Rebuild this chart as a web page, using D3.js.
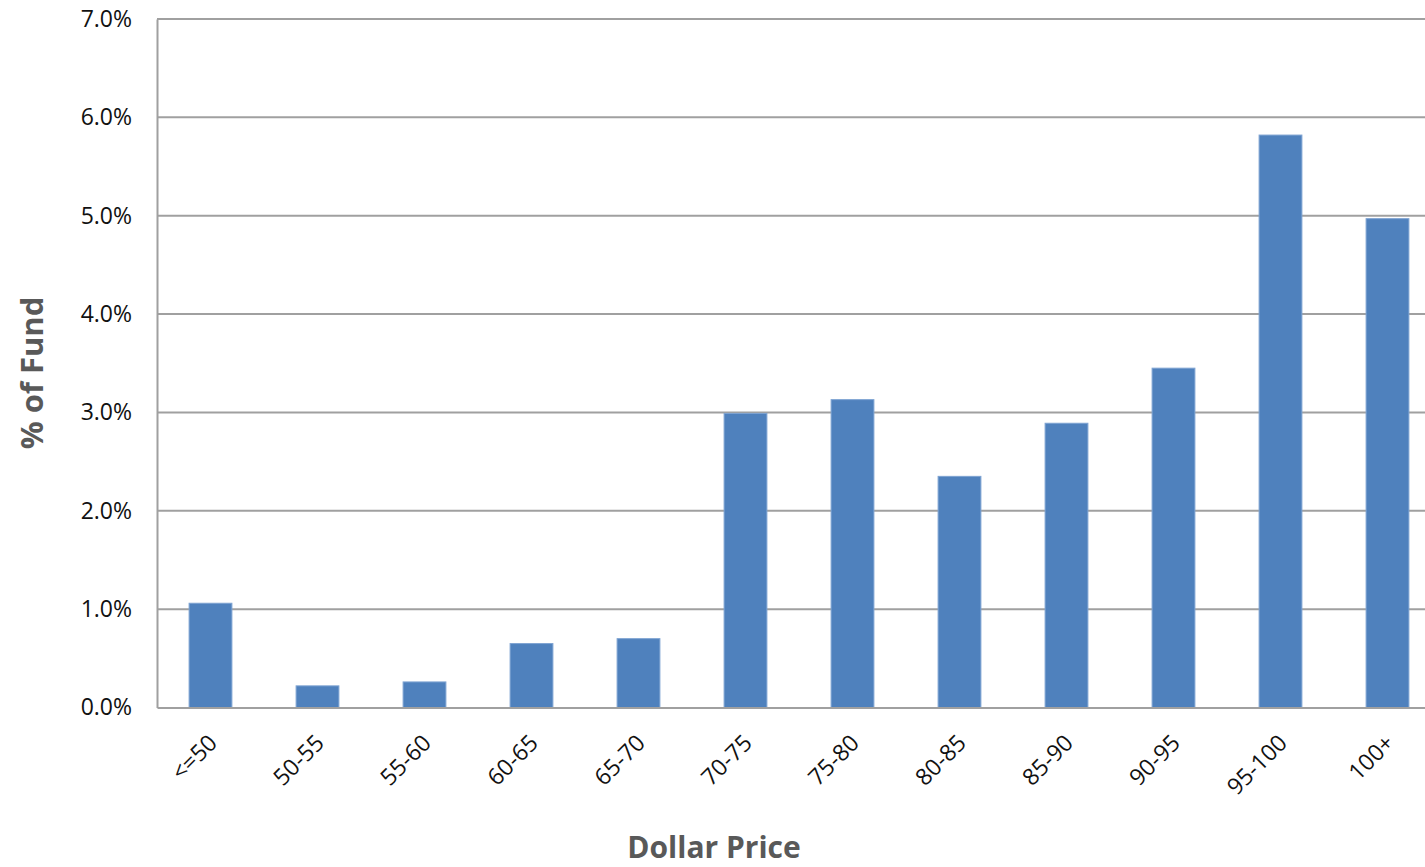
<!DOCTYPE html>
<html>
<head>
<meta charset="utf-8">
<script src="https://cdn.jsdelivr.net/npm/d3@7"></script>
<style>
  html, body { margin: 0; padding: 0; background: #fff; overflow: hidden; }
  svg { display: block; }
</style>
</head>
<body>
<svg id="chart" width="1425" height="867"></svg>
<script>
// Distribution of fund holdings by dollar price bucket
const categories = ["<=50", "50-55", "55-60", "60-65", "65-70", "70-75", "75-80", "80-85", "85-90", "90-95", "95-100", "100+"];
const values = [1.06, 0.22, 0.26, 0.65, 0.70, 2.99, 3.13, 2.35, 2.89, 3.45, 5.82, 4.97];
const yTicks = [0, 1, 2, 3, 4, 5, 6, 7];

const svg = d3.select("#chart");
const margin = { left: 157, top: 19, right: 1441, bottom: 707.5 };

const x = d3.scaleBand()
  .domain(categories)
  .range([margin.left, margin.right])
  .paddingInner(0.6)
  .paddingOuter(0.3);

const y = d3.scaleLinear()
  .domain([0, 7])
  .range([margin.bottom, margin.top]);

const fontFamily = "'Open Sans', 'Liberation Sans', sans-serif";

// horizontal gridlines
svg.append("g")
  .selectAll("line")
  .data(yTicks.filter(d => d > 0))
  .join("line")
  .attr("x1", margin.left)
  .attr("x2", margin.right)
  .attr("y1", d => y(d))
  .attr("y2", d => y(d))
  .attr("stroke", "#a0a0a0")
  .attr("stroke-width", 2);

// bars
svg.append("g")
  .selectAll("rect")
  .data(values)
  .join("rect")
  .attr("x", (d, i) => x(categories[i]))
  .attr("y", d => y(d))
  .attr("width", x.bandwidth())
  .attr("height", d => y(0) - y(d))
  .attr("fill", "#4f81bd")
  .attr("stroke", "#7ea3d2")
  .attr("stroke-width", 1);

// y axis
const yAxis = svg.append("g")
  .attr("transform", `translate(${margin.left},0)`)
  .call(d3.axisLeft(y).tickValues(yTicks).tickSize(0).tickPadding(25)
    .tickFormat(d => d3.format(".1f")(d) + "%"));
yAxis.select(".domain").attr("stroke", "#a0a0a0").attr("stroke-width", 2);
yAxis.selectAll("text")
  .attr("font-family", fontFamily)
  .attr("font-size", 23)
  .attr("fill", "#111");

// x axis
const xAxis = svg.append("g")
  .attr("transform", `translate(0,${margin.bottom})`)
  .call(d3.axisBottom(x).tickSize(0).tickPadding(0));
xAxis.select(".domain").attr("stroke", "#a0a0a0").attr("stroke-width", 2);
xAxis.selectAll("text")
  .attr("font-family", fontFamily)
  .attr("font-size", 23)
  .attr("fill", "#111")
  .attr("dy", 0)
  .attr("text-anchor", "end")
  .attr("transform", "translate(8,37) rotate(-45)");

// axis titles
svg.append("text")
  .attr("x", 714)
  .attr("y", 858)
  .attr("text-anchor", "middle")
  .attr("font-family", fontFamily)
  .attr("font-weight", "bold")
  .attr("font-size", 30)
  .attr("fill", "#595959")
  .text("Dollar Price");

svg.append("text")
  .attr("transform", `translate(43,${373}) rotate(-90)`)
  .attr("text-anchor", "middle")
  .attr("font-family", fontFamily)
  .attr("font-weight", "bold")
  .attr("font-size", 31)
  .attr("fill", "#595959")
  .text("% of Fund");
</script>
</body>
</html>
